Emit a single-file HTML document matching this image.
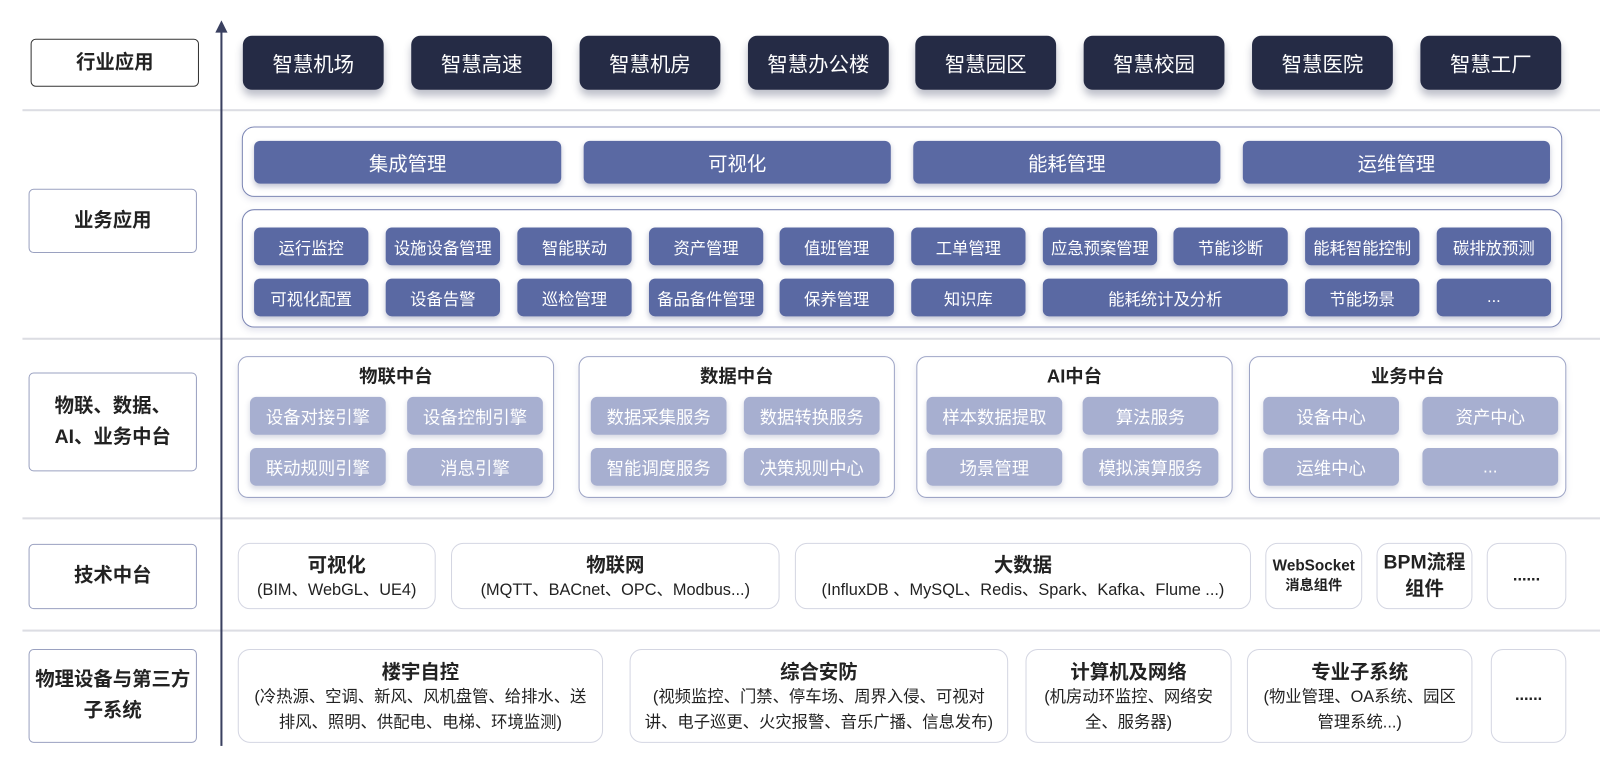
<!DOCTYPE html>
<html><head><meta charset="utf-8"><style>
body{margin:0;width:1600px;height:778px;background:#fff;position:relative;overflow:hidden;font-family:"Liberation Sans","Noto Sans CJK SC",sans-serif;}
#w{position:absolute;left:0;top:0;width:1568px;height:762px;transform:scale(1.0204);transform-origin:0 0;}
div{position:absolute;box-sizing:border-box;}
.c{display:flex;align-items:center;justify-content:center;text-align:center;}
.lab{border:1.5px solid #9aa1c0;border-radius:5px;background:#fff;font-weight:bold;font-size:19px;color:#222;line-height:30px;}
.hl{height:2px;background:#dcdde3;left:22px;width:1550px;}
.dk{background:#252b45;color:#fff;border-radius:9px;font-size:20px;box-shadow:0 6px 8px rgba(40,45,80,.3);top:35px;height:53px;width:138px;}
.ob{border:1.5px solid #7c86b4;border-radius:12px;box-shadow:0 3px 6px rgba(80,90,140,.15);}
.md{background:#5a69a3;color:#fff;border-radius:6px;box-shadow:0 3px 5px rgba(60,70,120,.3);}
.sm{font-size:16px;height:37px;width:112px;}
.lt{background:#a7afd0;color:#fff;border-radius:6px;font-size:17px;height:37px;width:133px;box-shadow:0 3px 5px rgba(60,70,120,.2);}
.pb{border:1.5px solid #9ea5c6;border-radius:10px;top:349px;height:139px;box-shadow:0 3px 6px rgba(80,90,140,.12);}
.pt{font-weight:bold;font-size:18px;color:#222;top:354px;height:28px;}
.tb{border:1.5px solid #d4d6e2;border-radius:12px;flex-direction:column;color:#222;}
.tt{font-weight:bold;font-size:19px;}
.ts{font-size:16px;line-height:25px;}
</style></head><body><div id="w">
<div class="hl" style="top:107px"></div>
<div class="hl" style="top:331px"></div>
<div class="hl" style="top:507px"></div>
<div class="hl" style="top:617px"></div>
<div style="left:216px;top:28px;width:2px;height:703px;background:#3a4060"></div>
<div style="left:211px;top:20px;width:0;height:0;border-left:6px solid transparent;border-right:6px solid transparent;border-bottom:12px solid #3a4060"></div>

<div class="lab c" style="left:30px;top:38px;width:165px;height:47px;border-color:#333">行业应用</div>
<div class="lab c" style="left:28px;top:185px;width:165px;height:63px">业务应用</div>
<div class="lab c" style="left:28px;top:365px;width:165px;height:97px">物联、数据、<br>AI、业务中台</div>
<div class="lab c" style="left:28px;top:533px;width:165px;height:64px">技术中台</div>
<div class="lab c" style="left:28px;top:636px;width:165px;height:92px">物理设备与第三方<br>子系统</div>

<div class="dk c" style="left:238px">智慧机场</div>
<div class="dk c" style="left:403px">智慧高速</div>
<div class="dk c" style="left:568px">智慧机房</div>
<div class="dk c" style="left:733px">智慧办公楼</div>
<div class="dk c" style="left:897px">智慧园区</div>
<div class="dk c" style="left:1062px">智慧校园</div>
<div class="dk c" style="left:1227px">智慧医院</div>
<div class="dk c" style="left:1392px">智慧工厂</div>

<div class="ob" style="left:237px;top:124px;width:1294px;height:69px"></div>
<div class="md c" style="left:249px;top:138px;width:301px;height:42px;font-size:19px">集成管理</div>
<div class="md c" style="left:572px;top:138px;width:301px;height:42px;font-size:19px">可视化</div>
<div class="md c" style="left:895px;top:138px;width:301px;height:42px;font-size:19px">能耗管理</div>
<div class="md c" style="left:1218px;top:138px;width:301px;height:42px;font-size:19px">运维管理</div>

<div class="ob" style="left:237px;top:205px;width:1294px;height:116px"></div>
<div class="md c sm" style="left:249px;top:223px">运行监控</div>
<div class="md c sm" style="left:378px;top:223px">设施设备管理</div>
<div class="md c sm" style="left:507px;top:223px">智能联动</div>
<div class="md c sm" style="left:636px;top:223px">资产管理</div>
<div class="md c sm" style="left:764px;top:223px">值班管理</div>
<div class="md c sm" style="left:893px;top:223px">工单管理</div>
<div class="md c sm" style="left:1022px;top:223px">应急预案管理</div>
<div class="md c sm" style="left:1150px;top:223px">节能诊断</div>
<div class="md c sm" style="left:1279px;top:223px">能耗智能控制</div>
<div class="md c sm" style="left:1408px;top:223px">碳排放预测</div>
<div class="md c sm" style="left:249px;top:273px">可视化配置</div>
<div class="md c sm" style="left:378px;top:273px">设备告警</div>
<div class="md c sm" style="left:507px;top:273px">巡检管理</div>
<div class="md c sm" style="left:636px;top:273px">备品备件管理</div>
<div class="md c sm" style="left:764px;top:273px">保养管理</div>
<div class="md c sm" style="left:893px;top:273px">知识库</div>
<div class="md c sm" style="left:1022px;top:273px;width:240px">能耗统计及分析</div>
<div class="md c sm" style="left:1279px;top:273px">节能场景</div>
<div class="md c sm" style="left:1408px;top:273px">...</div>

<div class="pb" style="left:233px;width:310px"></div>
<div class="pt c" style="left:233px;width:310px">物联中台</div>
<div class="lt c" style="left:245px;top:389px">设备对接引擎</div>
<div class="lt c" style="left:399px;top:389px">设备控制引擎</div>
<div class="lt c" style="left:245px;top:439px">联动规则引擎</div>
<div class="lt c" style="left:399px;top:439px">消息引擎</div>

<div class="pb" style="left:567px;width:310px"></div>
<div class="pt c" style="left:567px;width:310px">数据中台</div>
<div class="lt c" style="left:579px;top:389px">数据采集服务</div>
<div class="lt c" style="left:729px;top:389px">数据转换服务</div>
<div class="lt c" style="left:579px;top:439px">智能调度服务</div>
<div class="lt c" style="left:729px;top:439px">决策规则中心</div>

<div class="pb" style="left:898px;width:310px"></div>
<div class="pt c" style="left:898px;width:310px">AI中台</div>
<div class="lt c" style="left:908px;top:389px">样本数据提取</div>
<div class="lt c" style="left:1061px;top:389px">算法服务</div>
<div class="lt c" style="left:908px;top:439px">场景管理</div>
<div class="lt c" style="left:1061px;top:439px">模拟演算服务</div>

<div class="pb" style="left:1224px;width:311px"></div>
<div class="pt c" style="left:1224px;width:311px">业务中台</div>
<div class="lt c" style="left:1238px;top:389px">设备中心</div>
<div class="lt c" style="left:1394px;top:389px">资产中心</div>
<div class="lt c" style="left:1238px;top:439px">运维中心</div>
<div class="lt c" style="left:1394px;top:439px">...</div>

<div class="tb c" style="left:233px;top:532px;width:194px;height:65px"><span class="tt">可视化</span><span class="ts">(BIM、WebGL、UE4)</span></div>
<div class="tb c" style="left:442px;top:532px;width:322px;height:65px"><span class="tt">物联网</span><span class="ts">(MQTT、BACnet、OPC、Modbus...)</span></div>
<div class="tb c" style="left:779px;top:532px;width:447px;height:65px"><span class="tt">大数据</span><span class="ts">(InfluxDB 、MySQL、Redis、Spark、Kafka、Flume ...)</span></div>
<div class="tb c" style="left:1240px;top:532px;width:95px;height:65px;font-weight:bold"><span style="font-size:15px">WebSocket</span><span style="font-size:14px">消息组件</span></div>
<div class="tb c" style="left:1349px;top:532px;width:94px;height:65px;font-weight:bold;font-size:19px;line-height:26px">BPM流程<br>组件</div>
<div class="tb c" style="left:1457px;top:532px;width:78px;height:65px;font-weight:bold">......</div>

<div class="tb c" style="left:233px;top:636px;width:358px;height:92px"><span class="tt">楼宇自控</span><span class="ts">(冷热源、空调、新风、风机盘管、给排水、送<br>排风、照明、供配电、电梯、环境监测)</span></div>
<div class="tb c" style="left:617px;top:636px;width:371px;height:92px"><span class="tt">综合安防</span><span class="ts">(视频监控、门禁、停车场、周界入侵、可视对<br>讲、电子巡更、火灾报警、音乐广播、信息发布)</span></div>
<div class="tb c" style="left:1005px;top:636px;width:202px;height:92px"><span class="tt">计算机及网络</span><span class="ts">(机房动环监控、网络安<br>全、服务器)</span></div>
<div class="tb c" style="left:1222px;top:636px;width:221px;height:92px"><span class="tt">专业子系统</span><span class="ts">(物业管理、OA系统、园区<br>管理系统...)</span></div>
<div class="tb c" style="left:1461px;top:636px;width:74px;height:92px;font-weight:bold">......</div>
</div></body></html>
